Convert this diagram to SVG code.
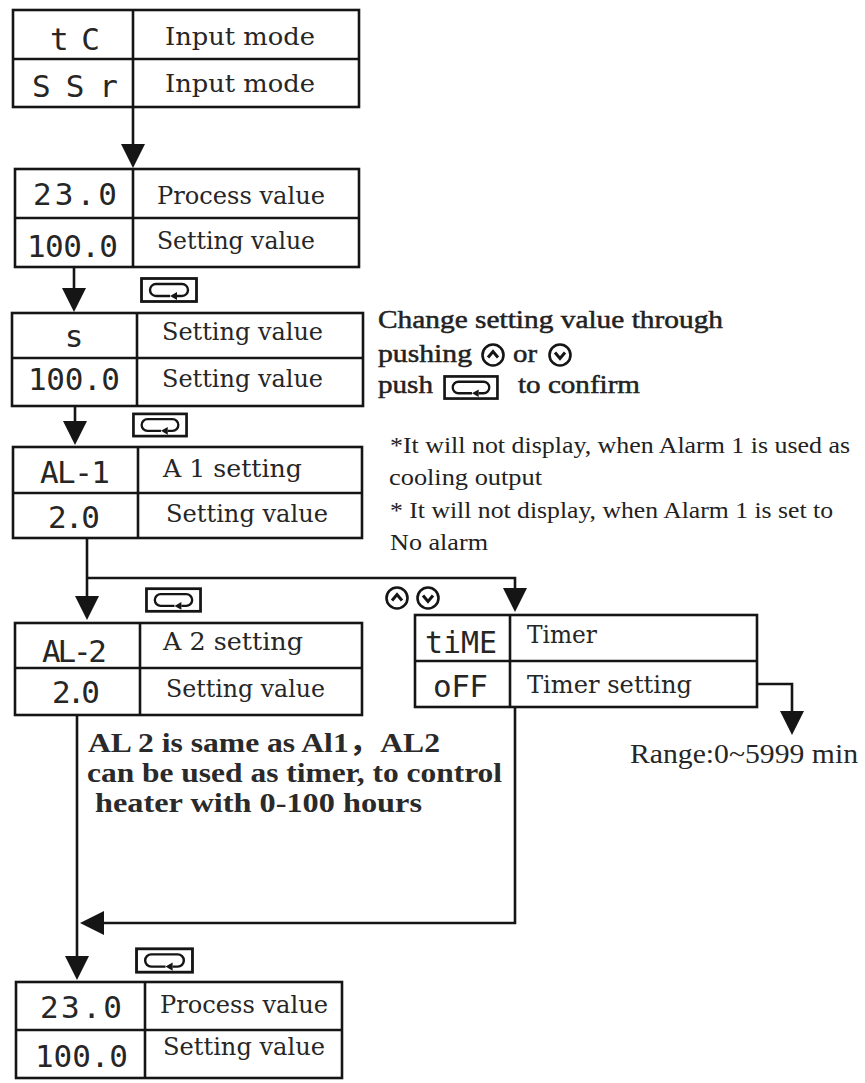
<svg xmlns="http://www.w3.org/2000/svg" xmlns:xlink="http://www.w3.org/1999/xlink" width="865" height="1083" viewBox="0 0 865 1083">
<style>
.box rect{fill:none;stroke:#151515;stroke-width:2.6}
.box line{stroke:#151515;stroke-width:2.6}
.lbl{font-family:"DejaVu Serif","Liberation Serif",serif;font-size:25px;fill:#262626}
.seg{font-family:"DejaVu Sans Mono",monospace;font-size:31px;fill:#262626}
.note{font-family:"Liberation Serif","Noto Sans CJK SC",serif;font-size:26px;fill:#222;stroke:#222;stroke-width:0.5}
.alarm{font-family:"Liberation Serif",serif;font-size:24px;fill:#222}
.bnote{font-family:"Liberation Serif","Noto Sans CJK SC",serif;font-size:28px;font-weight:bold;fill:#2a2a2a}
.rng{font-family:"Liberation Serif",serif;font-size:27px;fill:#262626}
.conn path{fill:none;stroke:#151515;stroke-width:2.6}
</style>
<defs>
<marker id="ah" markerUnits="userSpaceOnUse" markerWidth="24" markerHeight="24" viewBox="0 0 24 24" refX="14" refY="12" orient="auto">
<path d="M0,0 L24,12 L0,24 Z" fill="#151515"/>
</marker>
<symbol id="enter" viewBox="0 0 58 26">
<rect x="1.5" y="1.5" width="55" height="23" fill="none" stroke="#151515" stroke-width="2.8"/>
<path d="M30,19 H16 a6,6 0 0 1 0,-12 H42 a6,6 0 0 1 0,12 H37" fill="none" stroke="#151515" stroke-width="2.4"/>
<path d="M30,19 L37,15 L37,23 Z" fill="#151515"/>
</symbol>
<symbol id="up" viewBox="0 0 26 26">
<circle cx="13" cy="13" r="10.5" fill="none" stroke="#151515" stroke-width="2.6"/>
<path d="M8,15.5 L13,9.5 L18,15.5" fill="none" stroke="#151515" stroke-width="3"/>
</symbol>
<symbol id="down" viewBox="0 0 26 26">
<circle cx="13" cy="13" r="10.5" fill="none" stroke="#151515" stroke-width="2.6"/>
<path d="M8,10.5 L13,16.5 L18,10.5" fill="none" stroke="#151515" stroke-width="3"/>
</symbol>
</defs>
<rect width="865" height="1083" fill="#ffffff"/>

<g class="conn" id="connectors">
<path d="M133,107 V158" marker-end="url(#ah)"/>
<path d="M74,267 V302" marker-end="url(#ah)"/>
<path d="M75,406 V435" marker-end="url(#ah)"/>
<path d="M87,538 V610" marker-end="url(#ah)"/>
<path d="M87,578 H515 V602" marker-end="url(#ah)"/>
<path d="M757,684 H792 V725" marker-end="url(#ah)"/>
<path d="M515,707 V923 H90" marker-end="url(#ah)"/>
<path d="M77,715 V970" marker-end="url(#ah)"/>
</g>

<g id="input-mode" class="box">
<rect x="13" y="10" width="346" height="97"/>
<line x1="133" y1="10" x2="133" y2="107"/>
<line x1="13" y1="59" x2="359" y2="59"/>
<text class="seg" x="50" y="50" font-size="34" textLength="50" lengthAdjust="spacing">tC</text>
<text class="seg" x="32" y="97" textLength="86" lengthAdjust="spacing">SSr</text>
<text class="lbl" x="165" y="45" textLength="150" lengthAdjust="spacingAndGlyphs">Input mode</text>
<text class="lbl" x="165" y="92" textLength="150" lengthAdjust="spacingAndGlyphs">Input mode</text>
</g>

<g id="process-1" class="box">
<rect x="15" y="169" width="344" height="98"/>
<line x1="133" y1="169" x2="133" y2="267"/>
<line x1="15" y1="218" x2="359" y2="218"/>
<text class="seg" x="33" y="205" textLength="84" lengthAdjust="spacing">23.0</text>
<text class="seg" x="27" y="257" textLength="91" lengthAdjust="spacing">100.0</text>
<text class="lbl" x="157" y="204" textLength="168" lengthAdjust="spacingAndGlyphs">Process value</text>
<text class="lbl" x="157" y="249" textLength="158" lengthAdjust="spacingAndGlyphs">Setting value</text>
</g>

<g id="setting-edit" class="box">
<rect x="12" y="313" width="351" height="93"/>
<line x1="137" y1="313" x2="137" y2="406"/>
<line x1="12" y1="358" x2="363" y2="358"/>
<text class="seg" x="74" y="347" text-anchor="middle" font-size="26">s</text>
<text class="seg" x="28" y="390" textLength="92" lengthAdjust="spacing">100.0</text>
<text class="lbl" x="162" y="340" textLength="161" lengthAdjust="spacingAndGlyphs">Setting value</text>
<text class="lbl" x="162" y="387" textLength="161" lengthAdjust="spacingAndGlyphs">Setting value</text>
</g>

<g id="alarm1" class="box">
<rect x="13" y="447" width="349" height="91"/>
<line x1="138" y1="447" x2="138" y2="538"/>
<line x1="13" y1="493" x2="362" y2="493"/>
<text class="seg" x="40" y="483" textLength="70" lengthAdjust="spacing">AL-1</text>
<text class="seg" x="48" y="528" textLength="52" lengthAdjust="spacing">2.0</text>
<text class="lbl" x="163" y="477" textLength="139" lengthAdjust="spacingAndGlyphs">A 1 setting</text>
<text class="lbl" x="166" y="522" textLength="162" lengthAdjust="spacingAndGlyphs">Setting value</text>
</g>

<g id="alarm2" class="box">
<rect x="15" y="623" width="347" height="92"/>
<line x1="140" y1="623" x2="140" y2="715"/>
<line x1="15" y1="668" x2="362" y2="668"/>
<text class="seg" x="42" y="662" textLength="65" lengthAdjust="spacing">AL-2</text>
<text class="seg" x="52" y="703" textLength="48" lengthAdjust="spacing">2.0</text>
<text class="lbl" x="163" y="650" textLength="140" lengthAdjust="spacingAndGlyphs">A 2 setting</text>
<text class="lbl" x="166" y="697" textLength="159" lengthAdjust="spacingAndGlyphs">Setting value</text>
</g>

<g id="timer" class="box">
<rect x="415" y="615" width="342" height="92"/>
<line x1="510" y1="615" x2="510" y2="707"/>
<line x1="415" y1="661" x2="757" y2="661"/>
<text class="seg" x="425" y="653" font-size="28" textLength="72" lengthAdjust="spacingAndGlyphs">tiME</text>
<text class="seg" x="433" y="697" font-size="28" textLength="55" lengthAdjust="spacing">oFF</text>
<text class="lbl" x="527" y="643" textLength="70" lengthAdjust="spacingAndGlyphs">Timer</text>
<text class="lbl" x="527" y="693" textLength="165" lengthAdjust="spacingAndGlyphs">Timer setting</text>
</g>

<g id="process-2" class="box">
<rect x="16" y="982" width="326" height="96"/>
<line x1="145" y1="982" x2="145" y2="1078"/>
<line x1="16" y1="1030" x2="342" y2="1030"/>
<text class="seg" x="40" y="1018" textLength="82" lengthAdjust="spacing">23.0</text>
<text class="seg" x="35" y="1067" textLength="93" lengthAdjust="spacing">100.0</text>
<text class="lbl" x="160" y="1013" textLength="168" lengthAdjust="spacingAndGlyphs">Process value</text>
<text class="lbl" x="163" y="1055" textLength="162" lengthAdjust="spacingAndGlyphs">Setting value</text>
</g>

<g id="keys">
<use xlink:href="#enter" x="140" y="277" width="58" height="26"/>
<use xlink:href="#enter" x="132" y="412" width="56" height="26"/>
<use xlink:href="#enter" x="145" y="587" width="57" height="26"/>
<use xlink:href="#enter" x="135" y="947" width="59" height="27"/>
<use xlink:href="#up" x="384" y="585" width="26" height="26"/>
<use xlink:href="#down" x="415" y="585" width="26" height="26"/>
</g>

<g id="note-change">
<text class="note" x="378" y="328" textLength="345" lengthAdjust="spacingAndGlyphs">Change setting value through</text>
<text class="note" x="378" y="362" textLength="94" lengthAdjust="spacingAndGlyphs">pushing</text>
<use xlink:href="#up" x="480" y="342" width="26" height="26"/>
<text class="note" x="513" y="362" textLength="24" lengthAdjust="spacingAndGlyphs">or</text>
<use xlink:href="#down" x="547" y="342" width="26" height="26"/>
<text class="note" x="378" y="393" textLength="55" lengthAdjust="spacingAndGlyphs">push</text>
<use xlink:href="#enter" x="442" y="375" width="58" height="25"/>
<text class="note" x="518" y="393" textLength="122" lengthAdjust="spacingAndGlyphs">to confirm</text>
</g>

<g id="note-alarm">
<text class="alarm" x="390" y="453" textLength="460" lengthAdjust="spacingAndGlyphs">*It will not display, when Alarm 1 is used as</text>
<text class="alarm" x="389" y="485" textLength="153" lengthAdjust="spacingAndGlyphs">cooling output</text>
<text class="alarm" x="390" y="518" textLength="443" lengthAdjust="spacingAndGlyphs">* It will not display, when Alarm 1 is set to</text>
<text class="alarm" x="390" y="550" textLength="98" lengthAdjust="spacingAndGlyphs">No alarm</text>
</g>

<g id="note-al2">
<text class="bnote" x="88" y="752" textLength="352" lengthAdjust="spacingAndGlyphs">AL 2 is same as Al1，AL2</text>
<text class="bnote" x="87" y="782" textLength="415" lengthAdjust="spacingAndGlyphs">can be used as timer, to control</text>
<text class="bnote" x="95" y="812" textLength="327" lengthAdjust="spacingAndGlyphs">heater  with 0-100 hours</text>
</g>

<g id="range">
<text class="rng" x="630" y="763" textLength="228" lengthAdjust="spacingAndGlyphs">Range:0~5999 min</text>
</g>
</svg>
